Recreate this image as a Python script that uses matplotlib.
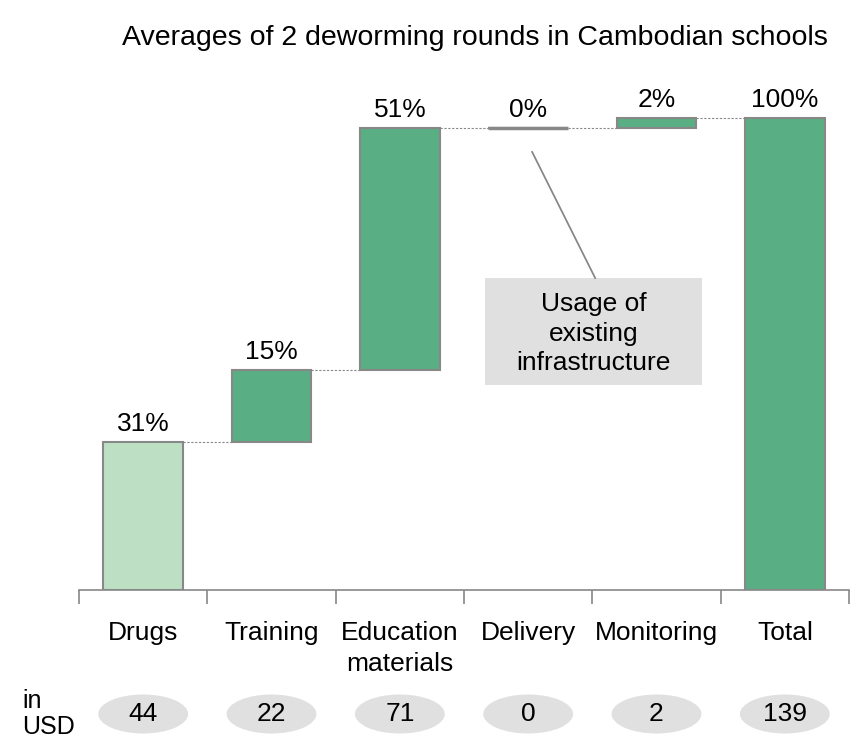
import matplotlib.pyplot as plt
from matplotlib.patches import Ellipse, Rectangle

plt.rcParams['font.family'] = ['Liberation Sans', 'DejaVu Sans']

categories = ['Drugs', 'Training', 'Education\nmaterials', 'Delivery', 'Monitoring', 'Total']
shares = [31.4, 15.2, 51.3, 0.0, 2.1]          # share of total cost, in %
pct_labels = ['31%', '15%', '51%', '0%', '2%', '100%']
usd = ['44', '22', '71', '0', '2', '139']

green = '#5aae83'
light_green = '#bde0c5'
edge = '#888888'
fs = 19

fig = plt.figure(figsize=(8.59, 7.42), dpi=100)
# axes: x from 79 to 849 px, y baseline at 590 px, top at 80 px
ax = fig.add_axes([79 / 859, (742 - 590) / 742, 770 / 859, 510 / 742])
ymax = 100 * 510 / 472
ax.set_xlim(-0.5, 5.5)
ax.set_ylim(0, ymax)

# waterfall bars
bottom = 0
tops = []
for i, s in enumerate(shares):
    col = light_green if i == 0 else green
    ax.bar(i, s, bottom=bottom, width=0.62, color=col, edgecolor=edge, linewidth=1.5)
    if s == 0:
        ax.plot([i - 0.31, i + 0.31], [bottom, bottom], color=edge, lw=2.5, solid_capstyle='butt')
    bottom += s
    tops.append(bottom)
ax.bar(5, 100, width=0.62, color=green, edgecolor=edge, linewidth=1.5)
tops.append(100)

# dotted connectors
for i in range(5):
    ax.plot([i + 0.31, i + 1 - 0.31], [tops[i], tops[i]], color=edge, lw=0.8,
            linestyle=(0, (2, 1.5)))

# percentage labels
for i, lab in enumerate(pct_labels):
    ax.annotate(lab, (i, tops[i]), xytext=(0, 4), textcoords='offset points',
                ha='center', va='bottom', fontsize=fs)

# axis styling
for sp in ['top', 'right', 'left']:
    ax.spines[sp].set_visible(False)
ax.spines['bottom'].set_color(edge)
ax.spines['bottom'].set_linewidth(1.2)
ax.set_yticks([])
ax.set_xticks([x - 0.5 for x in range(7)])
ax.set_xticklabels([])
ax.tick_params(axis='x', which='major', length=10, width=1.2, color=edge, direction='out')
ax.set_xticks(range(6), minor=True)
ax.set_xticklabels(categories, minor=True, fontsize=fs, linespacing=1.4)
ax.tick_params(axis='x', which='minor', length=0, pad=22)

# USD ellipses
px = 100 / 472  # data units per pixel in y
ecy = -(714 - 590) * px
for i, v in enumerate(usd):
    ax.add_patch(Ellipse((i, ecy), 0.70, 39 * px, facecolor='#e0e0e0', edgecolor='none', clip_on=False))
    ax.text(i, ecy, v, ha='center', va='center', fontsize=fs)
ax.text(-0.5 - 57 / 128.33, ecy, 'in\nUSD', ha='left', va='center', fontsize=18, linespacing=1.1)

# annotation box for delivery
bx0 = 3 - 43 / 128.33
bx1 = 3 + 174 / 128.33
by0 = (590 - 385) * px
by1 = (590 - 278) * px
ax.add_patch(Rectangle((bx0, by0), bx1 - bx0, by1 - by0, facecolor='#e0e0e0', edgecolor='none'))
ax.text((bx0 + bx1) / 2, (by0 + by1) / 2 - 2 * px, 'Usage of\nexisting\ninfrastructure',
        ha='center', va='center', fontsize=fs, linespacing=1.3)
ax.plot([3 + 4 / 128.33, 3 + 67 / 128.33], [(590 - 152) * px, by1], color=edge, lw=1.3)

fig.text(475 / 859, 1 - 38 / 742, 'Averages of 2 deworming rounds in Cambodian schools',
         ha='center', va='center', fontsize=20.5)

fig.savefig('out.png', dpi=100)
